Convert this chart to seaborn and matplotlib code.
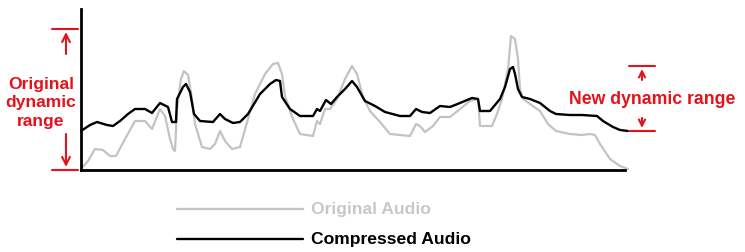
import numpy as np
import pandas as pd
import matplotlib
matplotlib.use("Agg")
import matplotlib.pyplot as plt
import seaborn as sns
from matplotlib.lines import Line2D

# ---- data (time position, level) ----
orig_x = [0, 7, 14, 22, 29, 35, 44, 54, 64, 71, 79, 84, 89, 92, 94, 96, 100, 103, 107, 111,
          114, 121, 129, 134, 139, 144, 151, 159, 167, 174, 184, 192, 197, 201, 204, 212, 219,
          232, 236, 239, 244, 249, 256, 264, 271, 276, 282, 289, 299, 309, 329, 335, 339, 344,
          352, 359, 369, 379, 389, 397, 399, 411, 416, 421, 427, 430, 434, 437, 439, 442, 449,
          459, 467, 475, 489, 501, 509, 514, 519, 529, 539, 547]
orig_y = [1, 9, 21, 20, 14, 14, 31, 49, 49, 41, 61, 54, 31, 21, 19, 61, 91, 99, 95, 71,
          46, 23, 21, 26, 39, 29, 21, 23, 51, 76, 96, 106, 107, 96, 74, 51, 36,
          34, 49, 46, 61, 61, 71, 91, 104, 96, 73, 59, 48, 36, 34, 46, 44, 38,
          44, 53, 53, 61, 69, 71, 44, 44, 56, 71, 101, 134, 131, 111, 81, 71, 66,
          59, 46, 39, 36, 35, 36, 35, 26, 11, 4, 1]

comp_x = [0, 9, 16, 26, 32, 39, 47, 54, 64, 71, 79, 87, 91, 95, 96, 102, 105, 109, 113, 119,
          132, 139, 144, 152, 159, 167, 179, 189, 195, 199, 201, 209, 219, 232, 236, 239, 245,
          250, 256, 264, 271, 276, 284, 294, 304, 319, 329, 335, 341, 349, 359, 369, 379, 391,
          397, 399, 409, 419, 424, 429, 432, 434, 437, 441, 449, 459, 469, 475, 489, 501, 516,
          522, 532, 539, 547]
comp_y = [39, 45, 48, 45, 44, 49, 56, 61, 61, 57, 67, 63, 48, 48, 71, 83, 86, 78, 56, 49,
          48, 56, 51, 47, 48, 56, 76, 86, 90, 89, 73, 61, 54, 54, 61, 59, 70,
          66, 73, 81, 89, 83, 69, 64, 58, 54, 54, 61, 58, 57, 64, 63, 67, 72,
          71, 59, 59, 71, 83, 101, 103, 96, 81, 73, 71, 67, 59, 56, 55, 55, 54,
          49, 43, 40, 39]

legend_labels = ["Original Audio", "Compressed Audio"]
left_label = "Original\ndynamic\nrange"
right_label = "New dynamic range"

W, H = 745, 253
GREY = "#c3c3c3"
RED = "#e3121b"

sns.set_style("white")
plt.rcParams["font.family"] = ["Liberation Sans", "DejaVu Sans"]

fig = plt.figure(figsize=(W / 100, H / 100), dpi=100)
ax = fig.add_axes([81 / W, (H - 171) / H, 544 / W, 161 / H])

df_o = pd.DataFrame({"t": orig_x, "level": orig_y})
df_c = pd.DataFrame({"t": comp_x, "level": comp_y})
sns.lineplot(data=df_o, x="t", y="level", color=GREY, lw=1.6, ax=ax, clip_on=False)
sns.lineplot(data=df_c, x="t", y="level", color="black", lw=1.7, ax=ax, clip_on=False)

ax.set_xlim(0, 544)
ax.set_ylim(0, 161)
ax.set_xticks([])
ax.set_yticks([])
ax.set_xlabel("")
ax.set_ylabel("")
for s in ["top", "right"]:
    ax.spines[s].set_visible(False)
for s in ["left", "bottom"]:
    ax.spines[s].set_color("black")
    ax.spines[s].set_linewidth(2)

arrow_kw = dict(arrowstyle="->", color=RED, lw=1.5, shrinkA=0, shrinkB=0)

# left annotation (original dynamic range)
hi = max(orig_y)
for yv in (hi + 7, 0):
    ax.plot([-29, -3], [yv, yv], color=RED, lw=1.5, clip_on=False)
ax.annotate("", xy=(-15, hi + 4), xytext=(-15, hi - 18),
            arrowprops=dict(mutation_scale=14, **arrow_kw), annotation_clip=False)
ax.annotate("", xy=(-15, 3), xytext=(-15, 36),
            arrowprops=dict(mutation_scale=14, **arrow_kw), annotation_clip=False)
ax.text(-40, 68, left_label, color=RED, fontsize=12.6, fontweight="bold",
        ha="center", va="center", linespacing=1.32, clip_on=False)

# right annotation (new dynamic range)
for yv in (104, 39):
    ax.plot([548, 574], [yv, yv], color=RED, lw=1.5, clip_on=False)
ax.annotate("", xy=(561, 101), xytext=(561, 90),
            arrowprops=dict(mutation_scale=11, **arrow_kw), annotation_clip=False)
ax.annotate("", xy=(561, 42), xytext=(561, 52),
            arrowprops=dict(mutation_scale=11, **arrow_kw), annotation_clip=False)
ax.text(571.5, 71, right_label, color=RED, fontsize=12.7, fontweight="bold",
        ha="center", va="center", clip_on=False)

# legend (manual)
for (lab, col, yp) in [(legend_labels[0], GREY, 210), (legend_labels[1], "black", 240)]:
    yf = (H - yp) / H
    fig.add_artist(Line2D([177 / W, 303 / W], [yf, yf], color=col, lw=1.7,
                          transform=fig.transFigure))
    fig.text(311 / W, yf, lab, color=("#c8c8c8" if col == GREY else "black"),
             fontsize=12.6, fontweight="bold", ha="left", va="center")

fig.savefig("out.png", dpi=100, facecolor="white")
